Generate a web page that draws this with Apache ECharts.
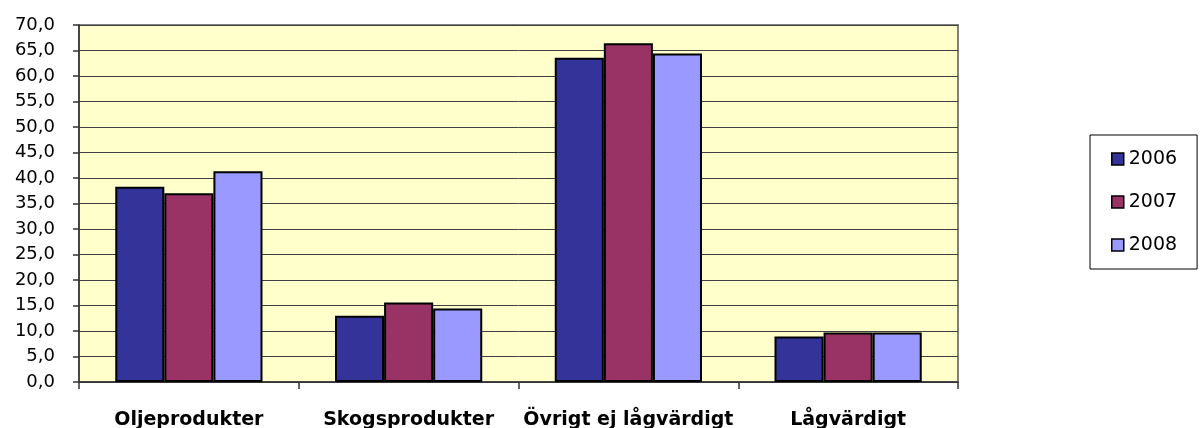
<!DOCTYPE html>
<html>
<head>
<meta charset="utf-8">
<script src="https://cdn.jsdelivr.net/npm/echarts@6/dist/echarts.min.js"></script>
<style>
html,body{margin:0;padding:0;background:#fff;}
#c{width:1203px;height:428px;}
</style>
</head>
<body>
<div id="c"></div>
<script>
const categories = ['Oljeprodukter', 'Skogsprodukter', 'Övrigt ej lågvärdigt', 'Lågvärdigt'];
const seriesNames = ['2006', '2007', '2008'];
const values2006 = [38.3, 13.0, 63.6, 8.9];
const values2007 = [37.0, 15.6, 66.4, 9.7];
const values2008 = [41.3, 14.4, 64.4, 9.7];
const colors = ['#333399', '#993366', '#9999FF'];

const chart = echarts.init(document.getElementById('c'), null, {renderer: 'canvas'});
const dataSets = [values2006, values2007, values2008];
chart.setOption({
  animation: false,
  backgroundColor: '#ffffff',
  grid: {
    left: 79, right: 245, top: 25, bottom: 46,
    containLabel: false, outerBoundsMode: 'none',
    show: true, backgroundColor: '#FFFFCC', borderColor: '#808080', borderWidth: 2
  },
  legend: {
    orient: 'vertical',
    left: 1090, top: 135,
    padding: [14, 20, 14, 21],
    itemGap: 23,
    itemWidth: 12, itemHeight: 12,
    borderColor: '#000', borderWidth: 1,
    icon: 'rect',
    itemStyle: {borderColor: '#000', borderWidth: 1.5},
    textStyle: {fontFamily: 'DejaVu Sans', fontSize: 19, color: '#000', lineHeight: 20},
    data: seriesNames
  },
  xAxis: {
    type: 'category',
    data: categories,
    axisLine: {lineStyle: {color: '#333', width: 1.5}},
    axisTick: {show: true, length: 7, lineStyle: {color: '#333', width: 1.5}},
    axisLabel: {
      margin: 29, fontFamily: 'DejaVu Sans', fontWeight: 'bold', fontSize: 19, color: '#000', interval: 0
    }
  },
  yAxis: {
    type: 'value',
    min: 0, max: 70, interval: 5,
    axisLine: {show: true, lineStyle: {color: '#333', width: 1.5}},
    axisTick: {show: true, length: 6, lineStyle: {color: '#333', width: 1.5}},
    axisLabel: {
      margin: 24, fontFamily: 'DejaVu Sans', fontSize: 18, color: '#000',
      formatter: v => v.toFixed(1).replace('.', ',')
    },
    splitLine: {show: true, lineStyle: {color: '#404040', width: 1}}
  },
  series: seriesNames.map((n, i) => ({
    name: n,
    type: 'bar',
    data: dataSets[i],
    barGap: '0%',
    barCategoryGap: '33%',
    itemStyle: {color: colors[i], borderColor: '#000', borderWidth: 2}
  }))
});
</script>
</body>
</html>
